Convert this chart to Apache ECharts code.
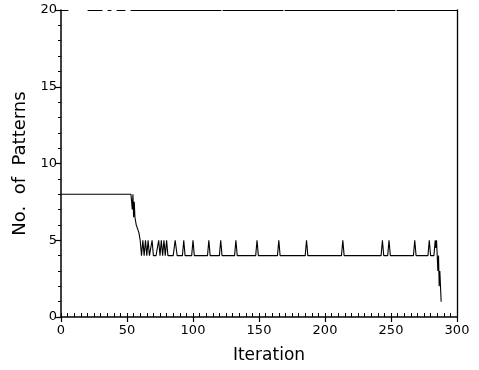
<!DOCTYPE html>
<html>
<head>
<meta charset="utf-8">
<script src="https://cdn.jsdelivr.net/npm/echarts@6/dist/echarts.min.js"></script>
<style>html,body{margin:0;padding:0;background:#fff}#c{width:479px;height:370px}</style>
</head>
<body>
<div id="c"></div>
<script>
// Data (iteration, number of patterns)
var iterations = [0, 53, 54, 54.5, 55, 55.5, 56, 57, 58, 59, 60, 61, 62, 63, 64, 65, 66, 67, 68, 69, 70, 71, 72, 73, 74, 75, 76, 77, 78, 79, 80, 81,
  85, 86.5, 88, 92, 93, 94, 99, 100, 101, 111, 112, 113, 120, 121, 122, 131.5, 132.5, 133.5, 147.5, 148.5, 149.5,
  164, 165, 166, 185, 186, 187, 212.5, 213.5, 214.5, 242.5, 243.5, 244.5, 247.5, 248.5, 249.5, 267, 268, 269,
  278, 279, 280, 282.5, 283.5, 284, 284.5, 285, 285.5, 286, 286.5, 287, 287.5, 288];
var patterns = [8, 8, 7, 8, 6.5, 7.5, 6.5, 6, 6, 5.5, 5, 4, 5, 4, 5, 4, 5, 4, 4, 5, 4, 4, 4, 4, 5, 4, 5, 4, 5, 4, 5, 4,
  4, 5, 4, 4, 5, 4, 4, 5, 4, 4, 5, 4, 4, 5, 4, 4, 5, 4, 4, 5, 4,
  4, 5, 4, 4, 5, 4, 4, 5, 4, 4, 5, 4, 4, 5, 4, 4, 5, 4,
  4, 5, 4, 4, 5, 4.5, 5, 4, 3, 4, 2, 3, 2, 1];
var xTicks = [0, 50, 100, 150, 200, 250, 300];
var yTicks = [0, 5, 10, 15, 20];

var seriesData = iterations.map(function (x, i) { return [x, patterns[i]]; });
var font = 'DejaVu Sans';
var chart = echarts.init(document.getElementById('c'));
chart.setOption({
  animation: false,
  backgroundColor: '#fff',
  grid: { left: 61, right: 22, top: 10, bottom: 53 },
  xAxis: [{
    type: 'value', min: xTicks[0], max: xTicks[xTicks.length - 1], interval: 50,
    position: 'bottom',
    name: 'Iteration', nameLocation: 'middle', nameGap: 30,
    nameTextStyle: { fontFamily: font, fontSize: 17, color: '#000', padding: [0, 0, 0, 20] },
    axisLine: { show: true, onZero: false, lineStyle: { color: '#000', width: 1.5 } },
    axisTick: { show: true, inside: false, length: 5, lineStyle: { color: '#000', width: 1.2 } },
    axisLabel: { fontFamily: font, fontSize: 13, color: '#000', margin: 7 },
    splitLine: { show: false }
  }, {
    type: 'value', min: 0, max: 300, interval: 5,
    position: 'bottom', gridIndex: 0,
    axisLine: { show: false, onZero: false },
    axisTick: { show: true, inside: true, length: 4, lineStyle: { color: '#000', width: 1 } },
    axisLabel: { show: false },
    splitLine: { show: false }
  }, {
    type: 'value', min: 0, max: 300, interval: 50,
    position: 'top',
    axisLine: { show: true, onZero: false, lineStyle: { color: '#000', width: 1, type: [7, 20, 14, 6, 3, 6, 8, 6, 90, 2, 60, 2, 110, 2, 80, 2] } },
    axisTick: { show: false },
    axisLabel: { show: false },
    splitLine: { show: false }
  }],
  yAxis: [{
    type: 'value', min: yTicks[0], max: yTicks[yTicks.length - 1], interval: 5,
    position: 'left',
    name: 'No.  of  Patterns', nameLocation: 'middle', nameGap: 30, nameRotate: 90,
    nameTextStyle: { fontFamily: font, fontSize: 18, color: '#000' },
    axisLine: { show: true, onZero: false, lineStyle: { color: '#000', width: 1.5 } },
    axisTick: { show: true, inside: false, length: 6, lineStyle: { color: '#000', width: 1.2 } },
    minorTick: { show: true, splitNumber: 5, length: 3, lineStyle: { color: '#000', width: 1 } },
    axisLabel: { fontFamily: font, fontSize: 13, color: '#000', margin: 4 },
    splitLine: { show: false },
    minorSplitLine: { show: false }
  }, {
    type: 'value', min: 0, max: 20, interval: 5,
    position: 'right',
    axisLine: { show: true, onZero: false, lineStyle: { color: '#000', width: 1.3 } },
    axisTick: { show: false },
    axisLabel: { show: false },
    splitLine: { show: false }
  }],
  series: [{
    type: 'line',
    xAxisIndex: 0, yAxisIndex: 0,
    data: seriesData,
    showSymbol: false,
    symbol: 'none',
    lineStyle: { color: '#000', width: 1.1 }
  }]
});
</script>
</body>
</html>
